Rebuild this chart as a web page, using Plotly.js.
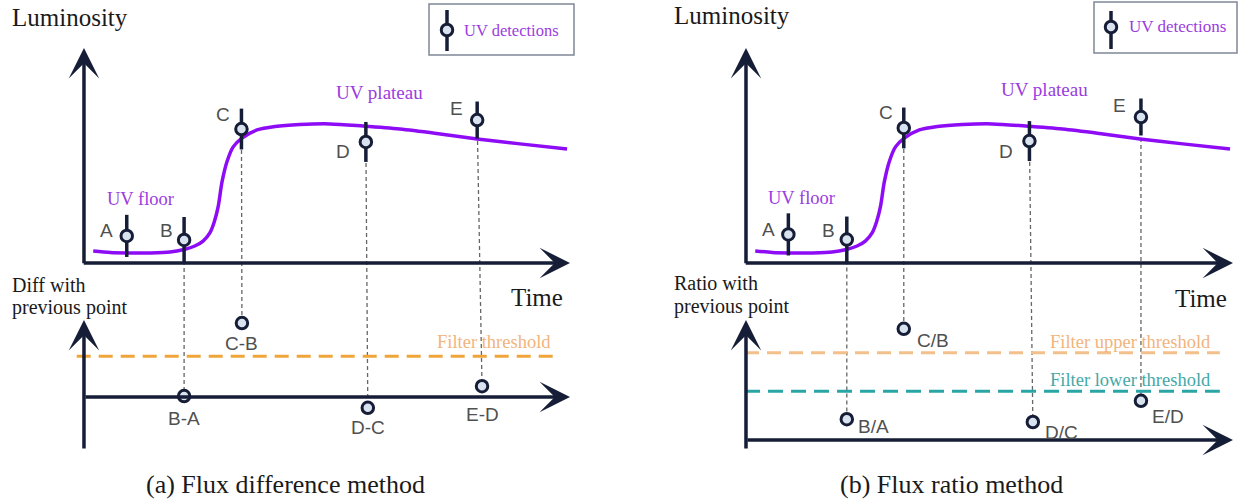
<!DOCTYPE html>
<html><head><meta charset="utf-8">
<script src="https://cdn.plot.ly/plotly-3.0.1.min.js"></script>
<style>html,body{margin:0;padding:0;background:#fff}#chart{width:1244px;height:501px}</style>
</head><body><div id="chart"></div>
<script>
// ---------------- data ----------------
const detLabels = ['A', 'B', 'C', 'D', 'E'];
const detTimeA = [8.8, 20.6, 32.4, 58.0, 80.9];
const detLumA  = [12.6, 10.7, 62.3, 56.3, 66.5];
const detTimeB = [8.7, 20.7, 32.4, 58.2, 81.1];
const detLumB  = [13.3, 10.9, 62.8, 56.7, 67.9];
const detErr   = [9.8, 10.7, 9.5, 9.3, 8.6];

const curveTime = [1.9, 5.4, 8.9, 13.6, 17.7, 20.6, 22.8, 24.5, 25.9, 26.8, 27.6, 28.4, 29.4, 30.7, 32.5, 35.6, 39.3, 44.4, 50.6, 57.4, 65.0, 73.3, 80.9, 89.7, 99.4];
const curveLum  = [5.6, 4.9, 4.7, 4.7, 5.1, 6.3, 7.9, 10.2, 14.0, 19.1, 26.1, 37.7, 47.0, 54.0, 58.1, 61.9, 63.5, 64.4, 64.7, 63.7, 62.3, 60.0, 57.7, 55.4, 53.0];

const diffLabels = ['B-A', 'C-B', 'D-C', 'E-D'];
const diffTime   = [20.6, 32.5, 58.4, 81.9];
const diffValue  = [0.13, 9.6, -1.4, 1.4];
const diffThreshold = 5.3;

const ratioLabels = ['B/A', 'C/B', 'D/C', 'E/D'];
const ratioTime   = [20.7, 32.4, 58.9, 81.1];
const ratioValue  = [0.52, 2.78, 0.45, 0.98];
const ratioUpper = 2.18;
const ratioLower = 1.22;

// ---------------- layout helpers ----------------
const W = 1244, H = 501;
const P = x => x / W;          // pixel -> paper x
const Q = y => 1 - y / H;      // pixel -> paper y
const SERIF = '"Liberation Serif", "Times New Roman", serif';
const SANS = '"Liberation Sans", Arial, sans-serif';
const NAVY = '#161d36';
const CURVE = '#8e0cf5';
const PURPLE = '#9a3ce0';
const GREY = '#505050';
const MFILL = '#d9e3ef';

const topDom = [Q(280), Q(30)], botDom = [Q(470), Q(280)];
const xRangeA = [-17.28, 110.7], xRangeB = [-25.46, 102.26];
const lumRange = [-7.91, 108.37], diffRange = [-9.48, 15.2], ratioRange = [-0.75, 4.0];

function toPaper(dom, rng, v) { return dom[0] + (v - rng[0]) / (rng[1] - rng[0]) * (dom[1] - dom[0]); }

const hidden = { visible: false, showgrid: false, zeroline: false, fixedrange: true };

// ---------------- traces ----------------
const traces = [];
function panel(xa, ya, yb, dTime, dLum, bTime, bVal) {
  traces.push({ x: curveTime, y: curveLum, xaxis: xa, yaxis: ya, mode: 'lines',
    line: { color: CURVE, width: 3.5, shape: 'spline', smoothing: 0.8 }, hoverinfo: 'skip' });
  traces.push({ x: dTime, y: dLum, xaxis: xa, yaxis: ya, mode: 'markers',
    error_y: { type: 'data', array: detErr, visible: true, color: NAVY, thickness: 3.5, width: 0 },
    marker: { size: 11.5, color: MFILL, line: { color: NAVY, width: 3 } }, hoverinfo: 'skip' });
  traces.push({ x: bTime, y: bVal, xaxis: xa, yaxis: yb, mode: 'markers',
    marker: { size: 11.5, color: MFILL, line: { color: NAVY, width: 3 } }, hoverinfo: 'skip' });
}
panel('x', 'y', 'y2', detTimeA, detLumA, diffTime, diffValue);
panel('x2', 'y3', 'y4', detTimeB, detLumB, ratioTime, ratioValue);

// threshold lines
traces.push({ x: [-1.5, 96.9], y: [diffThreshold, diffThreshold], xaxis: 'x', yaxis: 'y2', mode: 'lines',
  line: { color: '#efa53a', width: 3, dash: '14px,8px' }, hoverinfo: 'skip' });
traces.push({ x: [-0.2, 97.3], y: [ratioUpper, ratioUpper], xaxis: 'x2', yaxis: 'y4', mode: 'lines',
  line: { color: '#f3c08c', width: 3, dash: '14px,8px' }, hoverinfo: 'skip' });
traces.push({ x: [-0.2, 97.3], y: [ratioLower, ratioLower], xaxis: 'x2', yaxis: 'y4', mode: 'lines',
  line: { color: '#2aa5a5', width: 3, dash: '15px,8px' }, hoverinfo: 'skip' });

// ---------------- shapes (connectors + legend boxes) ----------------
const shapes = [];
function connectors(xref, dTime, dLum, bTime, bVal, bRange) {
  for (let i = 0; i < bTime.length; i++) {
    shapes.push({ type: 'line', layer: 'below', xref: xref, yref: 'paper',
      x0: dTime[i + 1], x1: bTime[i],
      y0: toPaper(topDom, lumRange, dLum[i + 1]), y1: toPaper(botDom, bRange, bVal[i]),
      line: { color: '#666666', width: 1.3, dash: '4px,3px' } });
  }
}
connectors('x', detTimeA, detLumA, diffTime, diffValue, diffRange);
connectors('x2', detTimeB, detLumB, ratioTime, ratioValue, ratioRange);

function legendBox(x0, y0, x1, y1, mx, my, b0, b1) {
  shapes.push({ type: 'rect', xref: 'paper', yref: 'paper', x0: P(x0), x1: P(x1), y0: Q(y0), y1: Q(y1),
    line: { color: '#7f8696', width: 1.5 }, fillcolor: 'rgba(0,0,0,0)' });
  shapes.push({ type: 'line', xref: 'paper', yref: 'paper', x0: P(mx), x1: P(mx), y0: Q(b0), y1: Q(b1),
    line: { color: NAVY, width: 3.5 } });
  shapes.push({ type: 'circle', xref: 'paper', yref: 'paper', x0: P(mx - 5.75), x1: P(mx + 5.75), y0: Q(my - 5.75), y1: Q(my + 5.75),
    line: { color: NAVY, width: 3 }, fillcolor: MFILL });
}
legendBox(429, 4, 574, 55, 447, 30, 10, 51);
legendBox(1094, 2, 1237, 53, 1111, 27, 11, 49);

// ---------------- annotations ----------------
const ann = [];
function txt(o, font) { ann.push(Object.assign({ showarrow: false, font: Object.assign({ family: SERIF, size: 20, color: '#1a1a1a' }, font || {}) }, o)); }
function arrow(xref, yref, x, y, ax, ay) {
  ann.push({ xref: xref, yref: yref, axref: xref, ayref: yref, x: x, y: y, ax: ax, ay: ay, text: '',
    showarrow: true, arrowhead: 3, arrowsize: 1.45, arrowwidth: 3.5, arrowcolor: NAVY, standoff: 0 });
}
// axes
arrow('x', 'y', 0, 100, 0, -0.8);   arrow('x', 'y', 100, 0, -0.36, 0);
arrow('x', 'y2', 0, 10, 0, -6.88);  arrow('x', 'y2', 100, 0, 0, 0);
arrow('x2', 'y3', 0, 100, 0, -0.8); arrow('x2', 'y3', 100, 0, -0.36, 0);
arrow('x2', 'y4', 0, 3.0, 0, -0.25); arrow('x2', 'y4', 100, 0, 0, 0);

// detection labels
const detShiftX = [-20, -18, -18, -23, -21], detShiftY = [5, 9, 15, -10, 12];
function detLabelsFor(xref, yref, t, l) {
  detLabels.forEach((s, i) => txt({ xref: xref, yref: yref, x: t[i], y: l[i], text: s,
    xshift: detShiftX[i], yshift: detShiftY[i] }, { family: SANS, size: 19, color: GREY }));
}
detLabelsFor('x', 'y', detTimeA, detLumA);
detLabelsFor('x2', 'y3', detTimeB, detLumB);
// diff labels (below points)
const diffShiftY = [-22, -20, -20, -28];
diffLabels.forEach((s, i) => txt({ xref: 'x', yref: 'y2', x: diffTime[i], y: diffValue[i], text: s,
  yshift: diffShiftY[i] }, { family: SANS, size: 19, color: GREY }));
// ratio labels (lower right of points)
const ratioShiftX = [27, 29, 29, 27], ratioShiftY = [-7, -12, -10, -16];
ratioLabels.forEach((s, i) => txt({ xref: 'x2', yref: 'y4', x: ratioTime[i], y: ratioValue[i], text: s,
  xshift: ratioShiftX[i], yshift: ratioShiftY[i] }, { family: SANS, size: 19, color: GREY }));

// titles / texts
txt({ xref: 'paper', yref: 'paper', x: P(10), y: Q(17), xanchor: 'left', yanchor: 'middle', text: 'Luminosity' }, { size: 25 });
txt({ xref: 'paper', yref: 'paper', x: P(672), y: Q(16), xanchor: 'left', yanchor: 'middle', text: 'Luminosity' }, { size: 25 });
txt({ xref: 'paper', yref: 'paper', x: P(565), y: Q(297), xanchor: 'right', yanchor: 'middle', text: 'Time' }, { size: 25 });
txt({ xref: 'paper', yref: 'paper', x: P(1229), y: Q(298), xanchor: 'right', yanchor: 'middle', text: 'Time' }, { size: 25 });
txt({ xref: 'paper', yref: 'paper', x: P(10), y: Q(285), xanchor: 'left', yanchor: 'middle', text: 'Diff with' }, { size: 20 });
txt({ xref: 'paper', yref: 'paper', x: P(10), y: Q(307), xanchor: 'left', yanchor: 'middle', text: 'previous point' }, { size: 20 });
txt({ xref: 'paper', yref: 'paper', x: P(672), y: Q(283), xanchor: 'left', yanchor: 'middle', text: 'Ratio with' }, { size: 20 });
txt({ xref: 'paper', yref: 'paper', x: P(672), y: Q(306), xanchor: 'left', yanchor: 'middle', text: 'previous point' }, { size: 20 });
// purple region labels
txt({ xref: 'x', yref: 'y', x: 11.7, y: 29.8, text: 'UV floor' }, { size: 18.5, color: PURPLE });
txt({ xref: 'x', yref: 'y', x: 60.9, y: 79.5, text: 'UV plateau' }, { size: 19, color: PURPLE });
txt({ xref: 'x2', yref: 'y3', x: 11.3, y: 30.2, text: 'UV floor' }, { size: 18.5, color: PURPLE });
txt({ xref: 'x2', yref: 'y3', x: 61.2, y: 80.5, text: 'UV plateau' }, { size: 19, color: PURPLE });
// legend texts
txt({ xref: 'paper', yref: 'paper', x: P(462), y: Q(30), xanchor: 'left', yanchor: 'middle', text: 'UV detections' }, { size: 16.5, color: PURPLE });
txt({ xref: 'paper', yref: 'paper', x: P(1127), y: Q(27), xanchor: 'left', yanchor: 'middle', text: 'UV detections' }, { size: 17, color: PURPLE });
// threshold texts
txt({ xref: 'x', yref: 'y2', x: 96.4, y: diffThreshold, xanchor: 'right', yshift: 14, text: 'Filter threshold' }, { size: 18.5, color: '#f2b47c' });
txt({ xref: 'x2', yref: 'y4', x: 95.9, y: ratioUpper, xanchor: 'right', yshift: 11, text: 'Filter upper threshold' }, { size: 18.5, color: '#f2b47c' });
txt({ xref: 'x2', yref: 'y4', x: 95.9, y: ratioLower, xanchor: 'right', yshift: 11, text: 'Filter lower threshold' }, { size: 18.5, color: '#45a8a8' });
// captions
txt({ xref: 'paper', yref: 'paper', x: P(285), y: Q(500), xanchor: 'center', yanchor: 'bottom', borderpad: 0, text: '(a) Flux difference method' }, { size: 26 });
txt({ xref: 'paper', yref: 'paper', x: P(951), y: Q(500), xanchor: 'center', yanchor: 'bottom', borderpad: 0, text: '(b) Flux ratio method' }, { size: 26 });

const layout = {
  width: W, height: H, margin: { l: 0, r: 0, t: 0, b: 0 },
  paper_bgcolor: '#fff', plot_bgcolor: 'rgba(0,0,0,0)', showlegend: false,
  xaxis: Object.assign({ domain: [0, 0.5], range: xRangeA, anchor: 'y' }, hidden),
  yaxis: Object.assign({ domain: topDom, range: lumRange, anchor: 'x' }, hidden),
  yaxis2: Object.assign({ domain: botDom, range: diffRange, anchor: 'x' }, hidden),
  xaxis2: Object.assign({ domain: [0.5, 1], range: xRangeB, anchor: 'y3' }, hidden),
  yaxis3: Object.assign({ domain: topDom, range: lumRange, anchor: 'x2' }, hidden),
  yaxis4: Object.assign({ domain: botDom, range: ratioRange, anchor: 'x2' }, hidden),
  shapes: shapes, annotations: ann
};
Plotly.newPlot('chart', traces, layout, { displayModeBar: false, staticPlot: true });
</script></body></html>
